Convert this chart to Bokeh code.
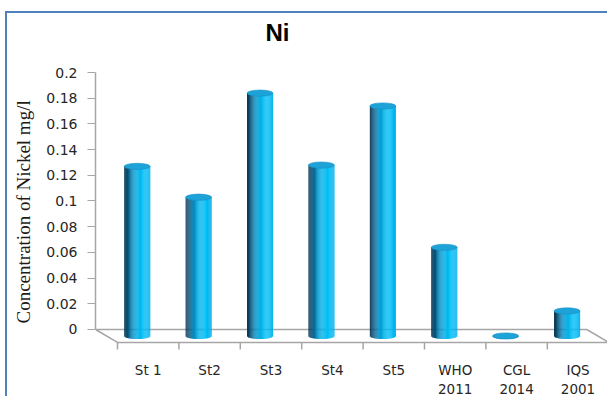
import math
from bokeh.plotting import figure
from bokeh.models import Range1d, FixedTicker, Title, ColumnDataSource, InlineStyleSheet
from bokeh.embed import file_html
from bokeh.resources import INLINE

# ---- data ----
categories = ["St 1", "St2", "St3", "St4", "St5", "WHO 2011", "CGL 2014", "IQS 2001"]
x_labels = ["St 1", "St2", "St3", "St4", "St5", "WHO\n2011", "CGL\n2014", "IQS\n2001"]
nickel = [0.132, 0.108, 0.189, 0.133, 0.179, 0.069, 0.0, 0.0195]
yticks = [0, 0.02, 0.04, 0.06, 0.08, 0.1, 0.12, 0.14, 0.16, 0.18, 0.2]
ytick_labels = ["0", "0.02", "0.04", "0.06", "0.08", "0.1", "0.12", "0.14", "0.16", "0.18", "0.2"]
title_text = "Ni"
ylabel_text = "Concentration of Nickel mg/l"

n = len(categories)

# ---- geometry (styles) ----
X0, X1 = -0.358, 7.98          # x range (category units)
Y0, Y1 = -0.0179, 0.2          # y range
DX, DY = 0.358, 0.0101         # 3-D floor depth
BAR_W = 0.423
ELL = 0.0024                   # half height of cylinder ellipse (data)
N_STRIPS = 28

border_css = InlineStyleSheet(css="""
:host { position: relative; }
:host::after {
  content: ""; position: absolute; left: 5px; top: 11px; width: 700px; height: 500px;
  border-left: 2px solid #4f81bd; border-top: 2px solid #4f81bd;
  pointer-events: none; box-sizing: border-box;
}
""")

p = figure(frame_width=512, frame_height=280, x_range=Range1d(X0, X1), y_range=Range1d(Y0, Y1),
           min_border_left=95, min_border_right=0, min_border_top=72, min_border_bottom=44,
           output_backend="svg", toolbar_location=None, stylesheets=[border_css])
p.outline_line_color = None
p.grid.visible = False
p.background_fill_color = "white"
p.border_fill_color = "white"

# floor
p.patch([-DX, n - DX, n, 0], [0, 0, -DY, -DY], fill_color="white",
        line_color="#a6a6a6", line_width=1.5)
tick_x = list(range(n + 1))
p.segment(x0=tick_x, y0=[-DY] * len(tick_x), x1=tick_x, y1=[-DY - 0.0055] * len(tick_x),
          line_color="#a6a6a6", line_width=1.5)

# colour ramp across a cylinder
stops = [(-1.0, (8, 50, 78)), (-0.7, (4, 84, 122)), (-0.35, (0, 140, 196)),
         (0.05, (0, 178, 232)), (0.5, (0, 192, 248)), (1.0, (0, 176, 234))]

def ramp(u):
    for (u0, c0), (u1, c1) in zip(stops[:-1], stops[1:]):
        if u0 <= u <= u1:
            t = (u - u0) / (u1 - u0)
            c = [round(a + (b - a) * t) for a, b in zip(c0, c1)]
            return "#%02x%02x%02x" % tuple(c)
    return "#%02x%02x%02x" % stops[-1][1]

left, right, bottom, top, colors = [], [], [], [], []
ex, ey = [], []
yb = -DY / 2
for i, v in enumerate(nickel):
    xc = i + 0.5 - DX / 2
    ex.append(xc)
    ey.append(yb + v)
    for k in range(N_STRIPS):
        ul = -1 + 2 * k / N_STRIPS
        ur = -1 + 2 * (k + 1) / N_STRIPS
        uc = (ul + ur) / 2
        left.append(xc + ul * BAR_W / 2)
        right.append(xc + ur * BAR_W / 2 + 0.002)
        bottom.append(yb - ELL * math.sqrt(max(0.0, 1 - uc * uc)))
        top.append(yb + v)
        colors.append(ramp(uc))

src = ColumnDataSource(dict(left=left, right=right, bottom=bottom, top=top, color=colors))
p.quad(left="left", right="right", bottom="bottom", top="top", fill_color="color",
       line_color=None, source=src)
p.ellipse(x=ex, y=ey, width=BAR_W, height=2 * ELL, fill_color="#1ea3d9",
          line_color="#1590c6", line_width=0.6)

# axes
p.yaxis.ticker = FixedTicker(ticks=yticks)
p.yaxis.major_label_overrides = {t: l for t, l in zip(yticks, ytick_labels)}
p.yaxis.bounds = (0, 0.2)
p.yaxis.axis_line_color = "#a6a6a6"
p.yaxis.axis_line_width = 1.5
p.yaxis.major_tick_line_color = "#a6a6a6"
p.yaxis.major_tick_out = 8
p.yaxis.major_tick_in = 0
p.yaxis.minor_tick_line_color = None
p.yaxis.major_label_standoff = 10
p.yaxis.major_label_text_font = "DejaVu Sans"
p.yaxis.major_label_text_font_size = "14px"
p.yaxis.major_label_text_color = "#262626"

xt = [i + 0.5 for i in range(n)]
p.xaxis.ticker = FixedTicker(ticks=xt)
p.xaxis.major_label_overrides = {t: l for t, l in zip(xt, x_labels)}
p.xaxis.axis_line_color = None
p.xaxis.major_tick_line_color = None
p.xaxis.minor_tick_line_color = None
p.xaxis.major_tick_out = 0
p.xaxis.major_tick_in = 0
p.xaxis.major_label_standoff = 9
p.xaxis.major_label_text_font = "DejaVu Sans"
p.xaxis.major_label_text_font_size = "13.5px"
p.xaxis.major_label_text_color = "#262626"

# title (second, empty line keeps it clear of the plot) and vertical axis title
p.add_layout(Title(text=title_text + "\n ", align="left", offset=170, standoff=0,
                   vertical_align="bottom",
                   text_font="Liberation Sans", text_font_size="24px",
                   text_font_style="bold", text_color="#000000"), "above")
p.add_layout(Title(text=ylabel_text, align="left", offset=29, standoff=19,
                   text_font="Liberation Serif", text_font_size="19px",
                   text_font_style="normal", text_color="#1f1a17"), "left")

open("out.html", "w").write(file_html(p, INLINE))
